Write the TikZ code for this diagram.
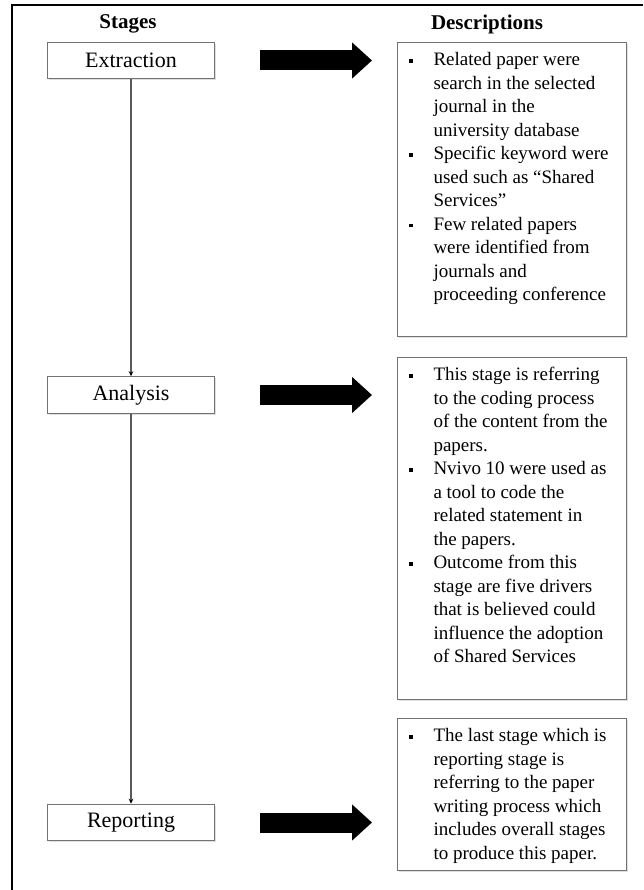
\documentclass[tikz,border=0pt]{standalone}
\usepackage{fontspec}
\setmainfont{Liberation Serif}
\usetikzlibrary{positioning,arrows.meta,shadows}

% one bullet point of a description box
\newcommand{\descitem}[1]{\par\noindent\hangindent=30pt\hangafter=1\strut\makebox[30pt][l]{\hspace{5.5pt}\raisebox{3pt}{\rule{3.5pt}{3.5pt}}}#1\par}

\begin{document}
\begin{tikzpicture}[x=1pt, y=-1pt]
    % Styles
    \tikzstyle{stage} = [rectangle, draw=black!55, line width=1pt, fill=white, minimum width=167pt, minimum height=36.5pt, inner sep=0pt, font=\fontsize{22}{26}\selectfont, drop shadow={shadow xshift=1.5pt, shadow yshift=-1.5pt, fill=black!25}]
    \tikzstyle{descbox} = [rectangle, draw=black!55, line width=1pt, fill=white, anchor=north west, inner xsep=6pt, inner ysep=7pt, font=\fontsize{19}{23.5}\selectfont, drop shadow={shadow xshift=1.5pt, shadow yshift=-1.5pt, fill=black!25}]
    \tikzstyle{header} = [font=\bfseries\fontsize{21}{25}\selectfont]
    \tikzstyle{flow} = [draw=black!65, line width=1.4pt, -{Stealth[length=5pt, width=4.5pt, black]}]
    \tikzstyle{bigarrow} = [line width=20pt, -{Triangle[length=20pt, width=35pt]}]

    \useasboundingbox (0,0) rectangle (643,890);

    % Frame
    \draw[line width=1.5pt] (12,890) -- (12,5) -- (643,5);

    % Headers
    \node[header] (hdstages) at (128,24) {Stages};
    \node[header] (hddesc) at (487,24) {Descriptions};

    % Stages
    \node[stage] (extraction) at (131,60.5) {Extraction};
    \node[stage, below of=extraction, node distance=334.5pt] (analysis) {Analysis};
    \node[stage, below of=analysis, node distance=427.5pt] (reporting) {Reporting};

    % Descriptions
    \node[descbox] (desc1) at (397,42) {\parbox[t][280pt][t]{217pt}{%
        \descitem{Related paper were\\ search in the selected\\ journal in the\\ university database}
        \descitem{Specific keyword were\\ used such as ``Shared\\ Services''}
        \descitem{Few related papers\\ were identified from\\ journals and\\ proceeding conference}}};
    \node[descbox] (desc2) at (397,357) {\parbox[t][328pt][t]{217pt}{%
        \descitem{This stage is referring\\ to the coding process\\ of the content from the\\ papers.}
        \descitem{Nvivo 10 were used as\\ a tool to code the\\ related statement in\\ the papers.}
        \descitem{Outcome from this\\ stage are five drivers\\ that is believed could\\ influence the adoption\\ of Shared Services}}};
    \node[descbox] (desc3) at (397,718) {\parbox[t][138pt][t]{217pt}{%
        \descitem{The last stage which is\\ reporting stage is\\ referring to the paper\\ writing process which\\ includes overall stages\\ to produce this paper.}}};

    % Arrows
    \draw[flow] (extraction) -- (analysis);
    \draw[flow] (analysis) -- (reporting);
    \draw[bigarrow] ([xshift=44.5pt]extraction.east) -- ([xshift=-25pt]desc1.west |- extraction.east);
    \draw[bigarrow] ([xshift=44.5pt]analysis.east) -- ([xshift=-25pt]desc2.west |- analysis.east);
    \draw[bigarrow] ([xshift=44.5pt]reporting.east) -- ([xshift=-25pt]desc3.west |- reporting.east);
\end{tikzpicture}
\end{document}
